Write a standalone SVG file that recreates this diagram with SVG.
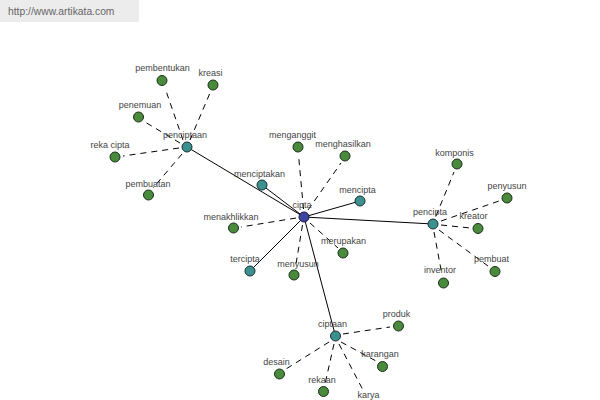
<svg xmlns="http://www.w3.org/2000/svg" width="600" height="400" viewBox="0 0 600 400">
<style>
.lbl{font-family:"Liberation Sans",Arial,sans-serif;font-size:9px;fill:#444;text-anchor:middle}
.hdr{font-family:"Liberation Sans",Arial,sans-serif;font-size:10.3px;fill:#666}
.s{stroke:#000;stroke-width:1;fill:none}
.d{stroke:#000;stroke-width:1;fill:none;stroke-dasharray:6,5}
.g{fill:#4a8a3c;stroke:#1a2e1a;stroke-width:1}
.t{fill:#3d9090;stroke:#1a2e2e;stroke-width:1}
.b{fill:#3c43a0;stroke:#1a1a40;stroke-width:1}
</style>
<rect x="0" y="0" width="600" height="400" fill="#fff"/>
<rect x="0" y="0" width="139" height="22" fill="#ececec"/>
<text class="hdr" x="8" y="15">http://www.artikata.com</text>
<g id="connectors">
<line class="s" x1="304" y1="217" x2="187" y2="147"/>
<line class="s" x1="304" y1="217" x2="433" y2="224"/>
<line class="s" x1="304" y1="217" x2="335.5" y2="336"/>
<line class="s" x1="304" y1="217" x2="262" y2="185"/>
<line class="s" x1="304" y1="217" x2="360" y2="201"/>
<line class="s" x1="304" y1="217" x2="250" y2="271"/>
<line class="d" x1="303.5" y1="209" x2="298.5" y2="155"/>
<line class="d" x1="308" y1="210" x2="341" y2="163"/>
<line class="d" x1="296" y1="218" x2="241" y2="227"/>
<line class="d" x1="310" y1="223" x2="338" y2="248"/>
<line class="d" x1="302.5" y1="225" x2="295.5" y2="267"/>
<line class="d" x1="183" y1="140" x2="165" y2="88"/>
<line class="d" x1="190" y1="140" x2="210" y2="93"/>
<line class="d" x1="180" y1="143" x2="145" y2="122"/>
<line class="d" x1="179" y1="148" x2="123" y2="156"/>
<line class="d" x1="182" y1="154" x2="153" y2="188"/>
<line class="d" x1="436" y1="216" x2="454" y2="172"/>
<line class="d" x1="441" y1="221" x2="499" y2="201"/>
<line class="d" x1="441" y1="225" x2="470" y2="228"/>
<line class="d" x1="439" y1="230" x2="488" y2="266"/>
<line class="d" x1="434" y1="232" x2="442" y2="275"/>
<line class="d" x1="343" y1="334" x2="390" y2="327"/>
<line class="d" x1="341" y1="342" x2="376" y2="361"/>
<line class="d" x1="329" y1="342" x2="286" y2="369"/>
<line class="d" x1="334" y1="344" x2="325" y2="384"/>
<line class="d" x1="339" y1="344" x2="364" y2="392"/>
</g>
<g id="cipta"><circle class="b" cx="304" cy="217" r="5"/><text class="lbl" x="302" y="208">cipta</text></g>
<g id="penciptaan"><circle class="t" cx="187" cy="147" r="5"/><text class="lbl" x="185" y="138">penciptaan</text></g>
<g id="pencipta"><circle class="t" cx="433" cy="224" r="5"/><text class="lbl" x="430" y="215">pencipta</text></g>
<g id="ciptaan"><circle class="t" cx="335.5" cy="336" r="5"/><text class="lbl" x="332.5" y="327">ciptaan</text></g>
<g id="menciptakan"><circle class="t" cx="262" cy="185" r="5"/><text class="lbl" x="259.5" y="177">menciptakan</text></g>
<g id="mencipta"><circle class="t" cx="360" cy="201" r="5"/><text class="lbl" x="357.5" y="193">mencipta</text></g>
<g id="tercipta"><circle class="t" cx="250" cy="271" r="5"/><text class="lbl" x="245" y="262">tercipta</text></g>
<g id="menganggit"><circle class="g" cx="298" cy="147" r="5"/><text class="lbl" x="292.5" y="138">menganggit</text></g>
<g id="menghasilkan"><circle class="g" cx="345" cy="156" r="5"/><text class="lbl" x="343" y="147">menghasilkan</text></g>
<g id="menakhlikkan"><circle class="g" cx="233.5" cy="228" r="5"/><text class="lbl" x="231" y="220">menakhlikkan</text></g>
<g id="merupakan"><circle class="g" cx="343" cy="253" r="5"/><text class="lbl" x="343.5" y="244">merupakan</text></g>
<g id="menyusun"><circle class="g" cx="294" cy="275" r="5"/><text class="lbl" x="298" y="267">menyusun</text></g>
<g id="pembentukan"><circle class="g" cx="162" cy="80.5" r="5"/><text class="lbl" x="162.5" y="71">pembentukan</text></g>
<g id="kreasi"><circle class="g" cx="213" cy="85" r="5"/><text class="lbl" x="210.5" y="76">kreasi</text></g>
<g id="penemuan"><circle class="g" cx="138.5" cy="117" r="5"/><text class="lbl" x="140" y="108">penemuan</text></g>
<g id="reka-cipta"><circle class="g" cx="115" cy="157" r="5"/><text class="lbl" x="110" y="148">reka cipta</text></g>
<g id="pembuatan"><circle class="g" cx="148.5" cy="195" r="5"/><text class="lbl" x="148" y="187">pembuatan</text></g>
<g id="komponis"><circle class="g" cx="457" cy="164" r="5"/><text class="lbl" x="454.5" y="156">komponis</text></g>
<g id="penyusun"><circle class="g" cx="507" cy="198" r="5"/><text class="lbl" x="507" y="189">penyusun</text></g>
<g id="kreator"><circle class="g" cx="478" cy="228.5" r="5"/><text class="lbl" x="473.5" y="219">kreator</text></g>
<g id="pembuat"><circle class="g" cx="495" cy="271.5" r="5"/><text class="lbl" x="491.5" y="262">pembuat</text></g>
<g id="inventor"><circle class="g" cx="443.5" cy="283" r="5"/><text class="lbl" x="440" y="273">inventor</text></g>
<g id="produk"><circle class="g" cx="398.5" cy="326" r="5"/><text class="lbl" x="396.5" y="317">produk</text></g>
<g id="karangan"><circle class="g" cx="382.5" cy="366.5" r="5"/><text class="lbl" x="380" y="357">karangan</text></g>
<g id="desain"><circle class="g" cx="279.5" cy="374" r="5"/><text class="lbl" x="276.5" y="365">desain</text></g>
<g id="rekaan"><circle class="g" cx="323.5" cy="391.5" r="5"/><text class="lbl" x="322" y="383">rekaan</text></g>
<g id="karya"><circle class="g" cx="370" cy="407" r="5"/><text class="lbl" x="368.5" y="398">karya</text></g>
</svg>
